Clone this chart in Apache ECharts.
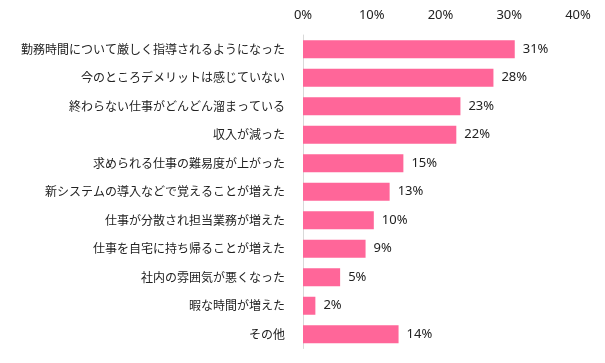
<!DOCTYPE html>
<html><head><meta charset="utf-8">
<script src="https://cdn.jsdelivr.net/npm/echarts@6/dist/echarts.min.js"></script>
<style>html,body{margin:0;padding:0;background:#fff}#c{width:605px;height:363px}</style>
</head><body><div id="c"></div>
<script>
const categories = ['勤務時間について厳しく指導されるようになった','今のところデメリットは感じていない','終わらない仕事がどんどん溜まっている','収入が減った','求められる仕事の難易度が上がった','新システムの導入などで覚えることが増えた','仕事が分散され担当業務が増えた','仕事を自宅に持ち帰ることが増えた','社内の雰囲気が悪くなった','暇な時間が増えた','その他'];
const values = [30.8, 27.7, 22.9, 22.3, 14.6, 12.6, 10.3, 9.1, 5.4, 1.8, 13.9];
const labels = ['31%','28%','23%','22%','15%','13%','10%','9%','5%','2%','14%'];
const ticks = [0, 10, 20, 30, 40];

const chart = echarts.init(document.getElementById('c'));
chart.setOption({
  animation: false,
  textStyle: { fontFamily: '"Noto Sans CJK JP", "Noto Sans", sans-serif' },
  grid: { left: 303, right: 27, top: 35, bottom: 14.5, containLabel: false },
  xAxis: {
    type: 'value', position: 'top', min: ticks[0], max: ticks[ticks.length-1], interval: 10,
    axisLine: { show: false }, axisTick: { show: false }, splitLine: { show: false },
    axisLabel: { formatter: v => v + '%', color: '#222', fontSize: 13, margin: 13, fontFamily: '"Noto Sans", sans-serif' }
  },
  yAxis: {
    type: 'category', inverse: true, data: categories,
    axisLine: { show: true, lineStyle: { color: '#d9d9d9', width: 1 } },
    axisTick: { show: false },
    axisLabel: { color: '#222', fontSize: 12, margin: 18 }
  },
  series: [{
    type: 'bar', data: values, barWidth: 18,
    itemStyle: { color: '#ff6699' },
    label: { show: true, position: 'right', distance: 8, color: '#222', fontSize: 13,
      fontFamily: '"Noto Sans", sans-serif',
      formatter: p => labels[p.dataIndex] }
  }]
});
</script></body></html>
